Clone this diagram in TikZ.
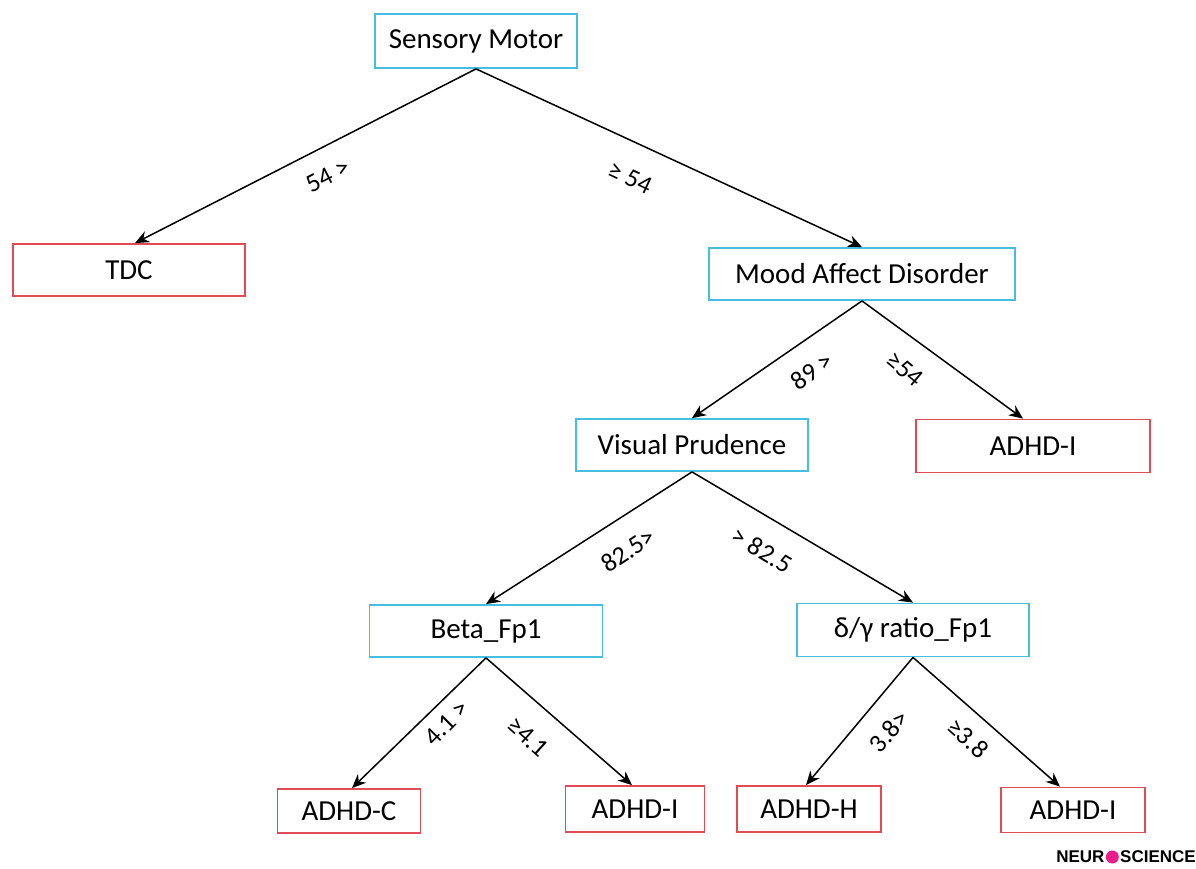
\documentclass[tikz,border=0pt]{standalone}
\usepackage{fontspec}
\setmainfont{Carlito}
\newfontfamily\logofont{Liberation Sans}
\usetikzlibrary{arrows.meta}
\definecolor{bluebox}{RGB}{70,190,225}
\definecolor{redbox}{RGB}{225,75,85}
\definecolor{logopink}{RGB}{235,30,140}
\tikzset{
  feat/.style={draw=bluebox, line width=1.8pt, fill=white, inner sep=0pt, font=\fontsize{29}{33}\selectfont},
  leaf/.style={draw=redbox, line width=1.8pt, fill=white, inner sep=0pt, font=\fontsize{29}{33}\selectfont},
  conn/.style={line width=1.5pt, -{Stealth[length=14pt,width=12pt]}},
  elabel/.style={font=\fontsize{26}{30}\selectfont, inner sep=0pt}
}
\begin{document}
\begin{tikzpicture}[x=1pt,y=-1pt]
\useasboundingbox (0,0) rectangle (1196,868);
% feature nodes
\node[feat, minimum width=202pt, minimum height=54pt] (sm) at (476,41) {Sensory Motor};
\node[leaf, minimum width=232pt, minimum height=52pt] (tdc) at (129,270) {TDC};
\node[feat, minimum width=306pt, minimum height=52pt] (mad) at (862,274) {Mood Affect Disorder};
\node[feat, minimum width=232pt, minimum height=52pt] (vp) at (692,445) {Visual Prudence};
\node[leaf, minimum width=234pt, minimum height=53pt] (ai1) at (1033,446) {ADHD-I};
\node[feat, minimum width=233pt, minimum height=52pt] (beta) at (486,631) {Beta\_Fp1};
\node[feat, minimum width=232pt, minimum height=53pt] (dg) at (913,630) {δ/γ ratio\_Fp1};
\node[leaf, minimum width=143pt, minimum height=44pt] (ac) at (349,811) {ADHD-C};
\node[leaf, minimum width=139pt, minimum height=46pt] (ai2) at (635,809) {ADHD-I};
\node[leaf, minimum width=144pt, minimum height=46pt] (ah) at (809,809) {ADHD-H};
\node[leaf, minimum width=144pt, minimum height=45pt] (ai3) at (1073,810) {ADHD-I};
% connectors
\draw[conn] (sm.south) -- ([xshift=6pt]tdc.north);
\draw[conn] (sm.south) -- (mad.north);
\draw[conn] (mad.south) -- (vp.north);
\draw[conn] (mad.south) -- ([xshift=-10pt]ai1.north);
\draw[conn] (vp.south) -- (beta.north);
\draw[conn] (vp.south) -- (dg.north);
\draw[conn] (beta.south) -- ([xshift=3pt]ac.north);
\draw[conn] (beta.south) -- ([xshift=-3pt]ai2.north);
\draw[conn] (dg.south) -- ([xshift=-3pt]ah.north);
\draw[conn] (dg.south) -- ([xshift=-13pt]ai3.north);
% edge labels
\node[elabel, rotate=27] (l1) at (328,176) {54 >};
\node[elabel, rotate=-25] (l2) at (630,178) {≥ 54};
\node[elabel, rotate=35] (l3) at (812,371) {89 >};
\node[elabel, rotate=-40] (l4) at (905,369) {≥54};
\node[elabel, rotate=33] (l5) at (628,550) {82.5>};
\node[elabel, rotate=-31] (l6) at (762,550) {> 82.5};
\node[elabel, rotate=45] (l7) at (447,723) {4.1 >};
\node[elabel, rotate=-42] (l8) at (528,737) {≥4.1};
\node[elabel, rotate=50] (l9) at (889,731) {3.8>};
\node[elabel, rotate=-42] (l10) at (968,738) {≥3.8};
% logo
\node[inner sep=0pt, anchor=east, font=\logofont\bfseries\fontsize{17}{18}\selectfont] (logo2) at (1196,857) {SCIENCE};
\node[circle, fill=logopink, inner sep=0pt, minimum size=13pt, anchor=east] (logoo) at ([xshift=-1pt]logo2.west) {};
\node[inner sep=0pt, anchor=east, font=\logofont\bfseries\fontsize{17}{18}\selectfont] (logo1) at ([xshift=-1pt]logoo.west) {NEUR};
\end{tikzpicture}
\end{document}
